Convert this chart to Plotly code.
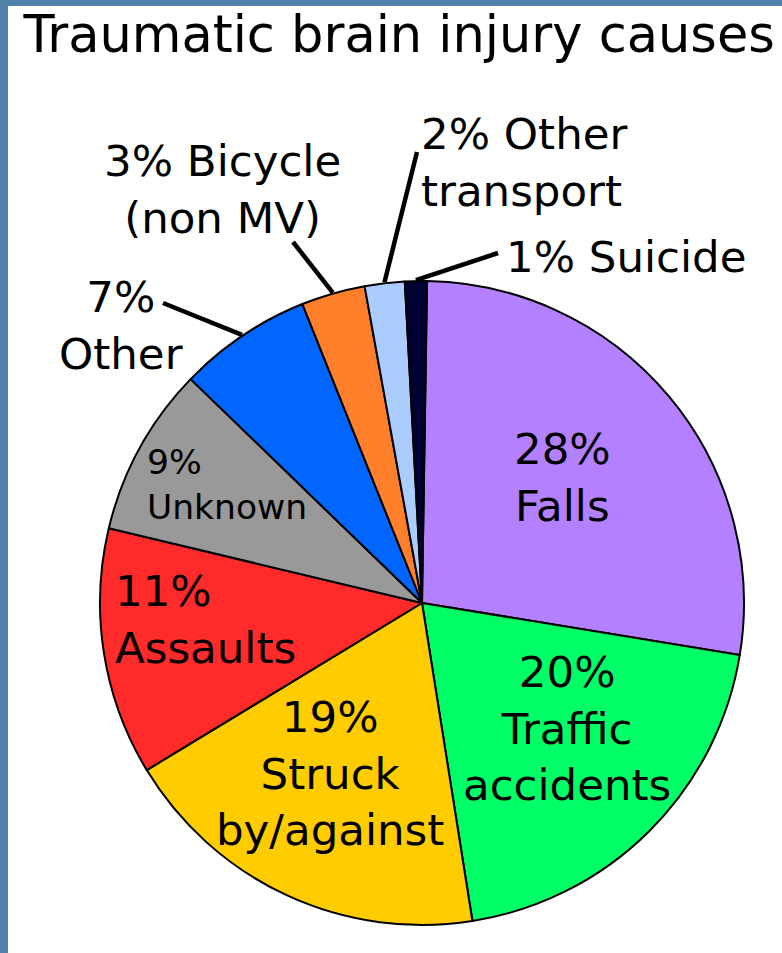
import math
import plotly.graph_objects as go

# ---------------- data ----------------
causes = ["Falls", "Traffic accidents", "Struck by/against", "Assaults", "Unknown",
          "Other", "Bicycle (non MV)", "Other transport", "Suicide"]
# printed percentages
label_percent = [28, 20, 19, 11, 9, 7, 3, 2, 1]
# slice shares as drawn in the picture
slice_share = [27.3, 19.9, 18.8, 12.4, 8.5, 6.7, 3.2, 2.0, 1.1]
label_templates = ["{v}%<br>Falls", "{v}%<br>Traffic<br>accidents", "{v}%<br>Struck<br>by/against",
                   "{v}%<br>Assaults", "{v}%<br>Unknown", "{v}%<br>Other",
                   "{v}% Bicycle<br>(non MV)", "{v}% Other<br>transport", "{v}% Suicide"]
title_text = "Traumatic brain injury causes"

# ---------------- styles ----------------
slice_colors = ["#b380ff", "#00ff66", "#ffcc00", "#ff2a2a", "#999999",
                "#0066ff", "#ff7f2a", "#aaccff", "#000033"]
W, H = 782, 953
CX, CY, R = 422, 603, 322          # pie centre / radius in pixels
START_DEG = 0.9                     # first slice starts slightly right of 12 o'clock
FONT = "DejaVu Sans"
ASC = 0.928                         # DejaVu ascent (em)

# label placement: (x px, first-line baseline px, xanchor, font size, leader-line start px or None)
label_layout = [
    (562, 464, "center", 43.5, None),
    (567, 687, "center", 43.5, None),
    (330, 732, "center", 43.5, None),
    (113, 606, "left", 43.5, None),
    (145, 474, "left", 34.5, None),
    (121, 312, "center", 43.5, (163, 303)),
    (222, 176, "center", 43.5, (293, 242)),
    (419, 149, "left", 43.5, (417, 152)),
    (504, 272, "left", 43.5, (498, 253)),
]


def px(x):
    return x / W


def py(y):
    return 1 - y / H


fig = go.Figure(go.Pie(
    labels=causes,
    values=slice_share,
    sort=False,
    direction="clockwise",
    rotation=START_DEG,
    textinfo="none",
    hovertemplate="%{label}<extra></extra>",
    marker=dict(colors=slice_colors, line=dict(color="black", width=2)),
    domain=dict(x=[px(CX - R), px(CX + R)], y=[py(CY + R), py(CY - R)]),
    showlegend=False,
))

annotations = []
shapes = []
total = sum(slice_share)
cum = 0
for v, p, tmpl, (lx, base, xa, fs, lead) in zip(slice_share, label_percent, label_templates, label_layout):
    mid = (cum + v / 2) / total
    cum += v
    top = base - ASC * fs - 2
    annotations.append(dict(
        text=tmpl.format(v=p), xref="paper", yref="paper", x=px(lx), y=py(top),
        xanchor=xa, yanchor="top", align=xa,
        showarrow=False, font=dict(family=FONT, size=fs, color="black"),
    ))
    if lead is not None:
        th = 2 * math.pi * mid + math.radians(START_DEG)
        ex = CX + (R + 1) * math.sin(th)
        ey = CY - (R + 1) * math.cos(th)
        shapes.append(dict(type="line", xref="paper", yref="paper",
                           x0=px(lead[0]), y0=py(lead[1]), x1=px(ex), y1=py(ey),
                           line=dict(color="black", width=4.5)))

# frame strips (left and top)
frame = "#5181ab"
shapes.append(dict(type="rect", xref="paper", yref="paper", x0=0, x1=px(8), y0=0, y1=1,
                   fillcolor=frame, line=dict(width=0)))
shapes.append(dict(type="rect", xref="paper", yref="paper", x0=0, x1=1, y0=py(6), y1=1,
                   fillcolor=frame, line=dict(width=0)))

fig.update_layout(
    width=W, height=H,
    margin=dict(l=0, r=0, t=0, b=0),
    paper_bgcolor="white", plot_bgcolor="white",
    title=dict(text=title_text, xref="container", yref="container",
               x=px(23.5), xanchor="left", y=py(16), yanchor="top",
               font=dict(family=FONT, size=51, color="black")),
    annotations=annotations,
    shapes=shapes,
    font=dict(family=FONT),
)

fig.write_html("out.html", config={"displayModeBar": False},
               post_script="document.body.style.margin='0';")
